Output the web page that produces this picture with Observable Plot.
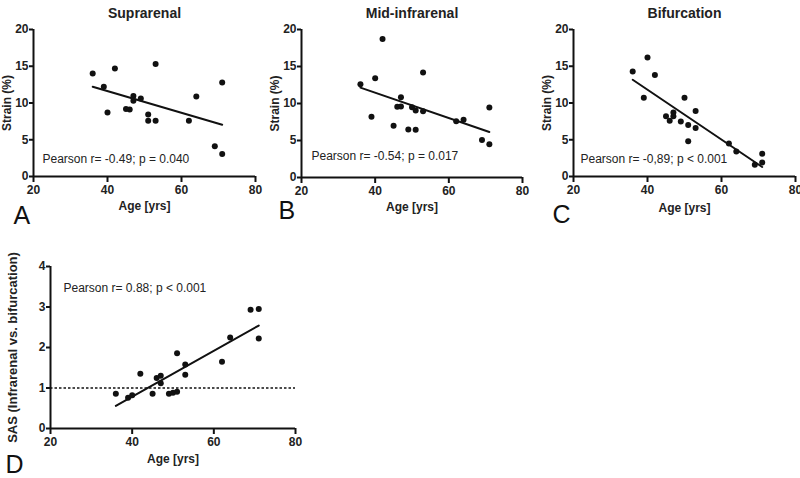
<!DOCTYPE html>
<html>
<head>
<meta charset="utf-8">
<script src="https://cdn.jsdelivr.net/npm/d3@7"></script>
<script src="https://cdn.jsdelivr.net/npm/@observablehq/plot@0.6"></script>
<style>
  body { margin: 0; background: #fff; }
  #chart { position: relative; width: 800px; height: 478px; overflow: hidden; background: #fff; color: #111; }
  #chart > svg { position: absolute; font-family: "Liberation Sans", Arial, Helvetica, sans-serif; }
</style>
</head>
<body>
<div id="chart"></div>
<script>
// ---- Data ----
// Panel A (Suprarenal)
const agesA = [36, 39, 40, 42, 45, 46, 47, 47, 49, 51, 51, 53, 53, 62, 64, 69, 71, 71];
const strainSuprarenal = [14.0, 12.2, 8.7, 14.7, 9.2, 9.1, 10.95, 10.3, 10.6, 8.45, 7.6, 15.3, 7.6, 7.6, 10.9, 4.1, 12.8, 3.05];
// Panels B, C, D share the same patients
const ages = [36, 39, 40, 42, 45, 46, 47, 47, 49, 50, 51, 51, 53, 53, 62, 64, 69, 71, 71];
const strainMidInfrarenal = [12.6, 8.2, 13.4, 18.7, 7.0, 9.55, 9.6, 10.85, 6.5, 9.5, 9.05, 6.45, 8.96, 14.2, 7.6, 7.8, 5.07, 9.45, 4.5];
const strainBifurcation = [14.3, 10.7, 16.2, 13.8, 8.2, 7.6, 8.7, 8.2, 7.5, 10.7, 7.0, 4.8, 8.9, 6.6, 4.5, 3.4, 1.6, 3.1, 1.9];
const sas = [0.86, 0.76, 0.82, 1.35, 0.86, 1.25, 1.30, 1.12, 0.86, 0.88, 0.91, 1.86, 1.58, 1.33, 1.65, 2.25, 2.93, 2.95, 2.22];

const xTicks = [20, 40, 60, 80];
const strainTicks = [0, 5, 10, 15, 20];
const sasTicks = [0, 1, 2, 3, 4];
const sasReference = [1];

const titles = ["Suprarenal", "Mid-infrarenal", "Bifurcation"];
const letters = ["A", "B", "C", "D"];
const notes = [
  "Pearson r= -0.49; p = 0.040",
  "Pearson r= -0.54; p = 0.017",
  "Pearson r= -0,89; p < 0.001",
  "Pearson r= 0.88; p < 0.001"
];
const xLabel = "Age [yrs]";
const strainLabel = "Strain (%)";
const sasLabel = "SAS (Infrarenal vs. bifurcation)";

// ---- Drawing ----
const INK = "#111";
const chart = document.getElementById("chart");

function panel(cfg) {
  const data = cfg.ages.map((a, i) => ({age: a, value: cfg.values[i]}));
  const marks = [
    Plot.ruleX([20], {stroke: INK, strokeWidth: 2}),
    Plot.ruleY([cfg.yDomain[0]], {stroke: INK, strokeWidth: 2})
  ];
  if (cfg.refLine) {
    marks.push(Plot.ruleY(cfg.refLine, {stroke: INK, strokeWidth: 1.5, strokeDasharray: "2.5,2"}));
  }
  marks.push(
    Plot.linearRegressionY(data, {x: "age", y: "value", ci: 0, stroke: INK, strokeWidth: 2}),
    Plot.dot(data, {x: "age", y: "value", r: 3, fill: INK}),
    Plot.text([xLabel], {text: d => d, frameAnchor: "bottom", dy: cfg.xLabelDy, fontSize: 12, fontWeight: "bold", fill: "#222"}),
    Plot.text([cfg.yLabel], {text: d => d, frameAnchor: "left", dx: cfg.yLabelDx, rotate: -90, textAnchor: "middle", fontSize: cfg.yLabelSize, fontWeight: "bold", fill: "#222"}),
    Plot.text([cfg.note], {text: d => d, frameAnchor: cfg.noteAnchor, dx: cfg.noteDx, dy: cfg.noteDy, textAnchor: "start", fontSize: 12, fill: "#222"}),
    Plot.text([cfg.letter], {text: d => d, frameAnchor: "bottom-left", dx: cfg.letterDx, dy: cfg.letterDy, textAnchor: "start", lineAnchor: "bottom", fontSize: 25, fill: "#111"}),
    Plot.axisX({ticks: xTicks, tickFormat: d => d, tickSize: 6, tickPadding: 3, fontSize: 12, fontWeight: "bold", label: null, stroke: INK, fill: "#222", strokeWidth: 2}),
    Plot.axisY({ticks: cfg.yTicks, tickFormat: d => d, tickSize: 4, tickPadding: 1, fontSize: 12, fontWeight: "bold", label: null, stroke: INK, fill: "#222", strokeWidth: 2})
  );
  if (cfg.title) {
    marks.push(Plot.text([cfg.title], {text: d => d, frameAnchor: "top", dy: -21, fontSize: 14, fontWeight: "bold", fill: "#222"}));
  }
  const svg = Plot.plot({
    width: cfg.width, height: cfg.height,
    marginLeft: cfg.ml, marginRight: cfg.mr, marginTop: cfg.mt, marginBottom: cfg.mb,
    style: {background: "transparent", overflow: "visible"},
    x: {domain: [20, 80]},
    y: {domain: cfg.yDomain},
    marks
  });
  svg.style.left = cfg.left + "px";
  svg.style.top = cfg.top + "px";
  chart.appendChild(svg);
  return svg;
}

panel({ages: agesA, values: strainSuprarenal, yDomain: [0, 20], yTicks: strainTicks, title: titles[0], yLabel: strainLabel, yLabelSize: 12,
  note: notes[0], letter: letters[0], left: 0, top: 0, width: 265, height: 232, ml: 33, mr: 10, mt: 29, mb: 56,
  xLabelDy: 33, yLabelDx: -26, noteAnchor: "bottom-left", noteDx: 9, noteDy: -14, letterDx: -20, letterDy: 47});
panel({ages, values: strainMidInfrarenal, yDomain: [0, 20], yTicks: strainTicks, title: titles[1], yLabel: strainLabel, yLabelSize: 12,
  note: notes[1], letter: letters[1], left: 265, top: 0, width: 265, height: 232, ml: 36, mr: 8, mt: 29, mb: 55,
  xLabelDy: 33, yLabelDx: -26, noteAnchor: "bottom-left", noteDx: 10, noteDy: -18, letterDx: -23, letterDy: 41});
panel({ages, values: strainBifurcation, yDomain: [0, 20], yTicks: strainTicks, title: titles[2], yLabel: strainLabel, yLabelSize: 12,
  note: notes[2], letter: letters[2], left: 530, top: 0, width: 270, height: 232, ml: 43, mr: 5, mt: 29, mb: 56,
  xLabelDy: 35, yLabelDx: -26, noteAnchor: "bottom-left", noteDx: 7, noteDy: -14, letterDx: -21, letterDy: 46});
panel({ages, values: sas, yDomain: [0, 4], yTicks: sasTicks, title: null, yLabel: sasLabel, yLabelSize: 13, refLine: sasReference,
  note: notes[3], letter: letters[3], left: 0, top: 245, width: 310, height: 233, ml: 50, mr: 15, mt: 21, mb: 50,
  xLabelDy: 34, yLabelDx: -38, noteAnchor: "top-left", noteDx: 13, noteDy: 17, letterDx: -45, letterDy: 44});
</script>
</body>
</html>
